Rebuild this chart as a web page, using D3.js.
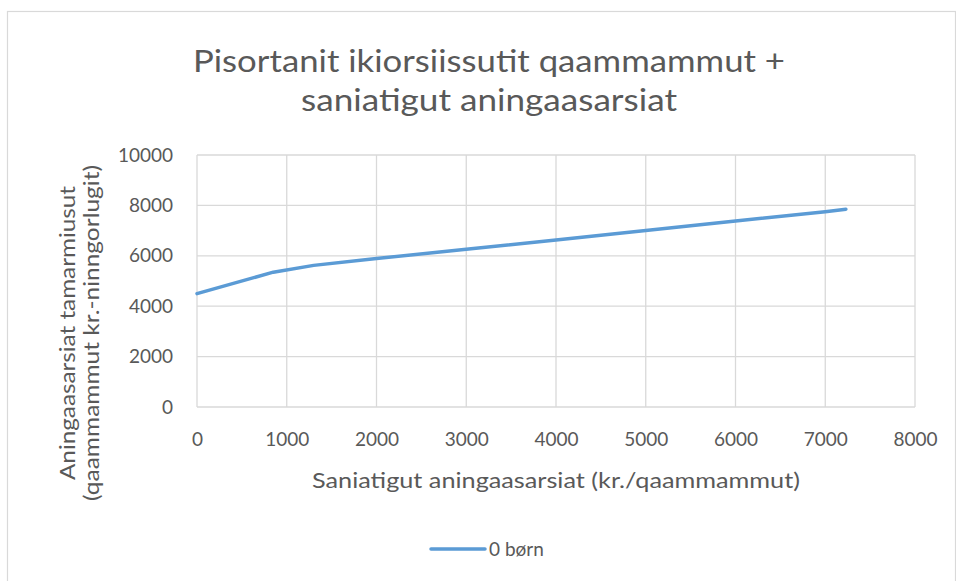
<!DOCTYPE html>
<html>
<head>
<meta charset="utf-8">
<script src="https://cdn.jsdelivr.net/npm/d3@7"></script>
<style>
  body { margin: 0; background: #fff; }
  text { font-family: Lato, "Open Sans", sans-serif; fill: #595959; }
</style>
</head>
<body>
<svg width="956" height="581"></svg>
<script>
// data
var seriesName = "0 børn";
var xValues = [0, 850, 1300, 2000, 3000, 4000, 5000, 6000, 7000, 7230];
var yValues = [4500, 5350, 5620, 5890, 6260, 6630, 7000, 7380, 7750, 7850];
var xTicks = [0, 1000, 2000, 3000, 4000, 5000, 6000, 7000, 8000];
var yTicks = [0, 2000, 4000, 6000, 8000, 10000];
var titleLines = ["Pisortanit ikiorsiissutit qaammammut +", "saniatigut aningaasarsiat"];
var xTitle = "Saniatigut aningaasarsiat (kr./qaammammut)";
var yTitleLines = ["Aningaasarsiat tamarmiusut", "(qaammammut kr.-ninngorlugit)"];

var svg = d3.select("svg");

// chart frame
svg.append("rect")
    .attr("x", 7.5).attr("y", 11.5)
    .attr("width", 948).attr("height", 600)
    .attr("fill", "#fff").attr("stroke", "#d9d9d9").attr("stroke-width", 1.2);

var margin = {left: 197, top: 155, right: 41, bottom: 174},
    width = 956 - margin.left - margin.right,
    height = 581 - margin.top - margin.bottom;

var g = svg.append("g").attr("transform", "translate(" + margin.left + "," + margin.top + ")");

var x = d3.scaleLinear().domain([0, 8000]).range([0, width]);
var y = d3.scaleLinear().domain([0, 10000]).range([height, 0]);

// gridlines
g.append("g").selectAll("line").data(xTicks).enter().append("line")
    .attr("x1", function(d) { return x(d); }).attr("x2", function(d) { return x(d); })
    .attr("y1", 0).attr("y2", height)
    .attr("stroke", "#d9d9d9").attr("stroke-width", 1.3);
g.append("g").selectAll("line").data(yTicks).enter().append("line")
    .attr("x1", 0).attr("x2", width)
    .attr("y1", function(d) { return y(d); }).attr("y2", function(d) { return y(d); })
    .attr("stroke", "#d9d9d9").attr("stroke-width", 1.3);

// axes (labels only, lines drawn by the grid)
var xAxis = g.append("g")
    .attr("transform", "translate(0," + height + ")")
    .call(d3.axisBottom(x).tickValues(xTicks).tickSize(0).tickPadding(26).tickFormat(d3.format("d")));
var yAxis = g.append("g")
    .call(d3.axisLeft(y).tickValues(yTicks).tickSize(0).tickPadding(24).tickFormat(d3.format("d")));
[xAxis, yAxis].forEach(function(a) {
    a.select(".domain").remove();
    a.selectAll("text").attr("font-size", 19).attr("font-family", null).attr("fill", "#595959");
});

// line
var line = d3.line()
    .x(function(d, i) { return x(xValues[i]); })
    .y(function(d) { return y(d); });
g.append("path")
    .datum(yValues)
    .attr("d", line)
    .attr("fill", "none")
    .attr("stroke", "#5b9bd5")
    .attr("stroke-width", 3.5)
    .attr("stroke-linecap", "round")
    .attr("stroke-linejoin", "round");

// title
svg.append("g").selectAll("text").data(titleLines).enter().append("text")
    .attr("x", 489)
    .attr("y", function(d, i) { return 72 + i * 39; })
    .attr("text-anchor", "middle")
    .attr("font-size", 30)
    .attr("textLength", function(d, i) { return i === 0 ? 592 : 376; })
    .attr("lengthAdjust", "spacingAndGlyphs")
    .text(function(d) { return d; });

// axis titles
svg.append("text")
    .attr("x", margin.left + width / 2).attr("y", 488)
    .attr("text-anchor", "middle")
    .attr("font-size", 21)
    .attr("textLength", 488).attr("lengthAdjust", "spacingAndGlyphs")
    .text(xTitle);

var yTitlePos = [[75, 333, 294], [99, 333, 336]];
svg.append("g").selectAll("text").data(yTitleLines).enter().append("text")
    .attr("transform", function(d, i) { return "translate(" + yTitlePos[i][0] + "," + yTitlePos[i][1] + ") rotate(-90)"; })
    .attr("text-anchor", "middle")
    .attr("font-size", 21)
    .attr("textLength", function(d, i) { return yTitlePos[i][2]; })
    .attr("lengthAdjust", "spacingAndGlyphs")
    .text(function(d) { return d; });

// legend
var legend = svg.append("g").attr("transform", "translate(431,549)");
legend.append("line")
    .attr("x1", 0).attr("x2", 54)
    .attr("stroke", "#5b9bd5").attr("stroke-width", 3.5).attr("stroke-linecap", "round");
legend.append("text")
    .attr("x", 58).attr("y", 7)
    .attr("font-size", 19)
    .text(seriesName);
</script>
</body>
</html>
